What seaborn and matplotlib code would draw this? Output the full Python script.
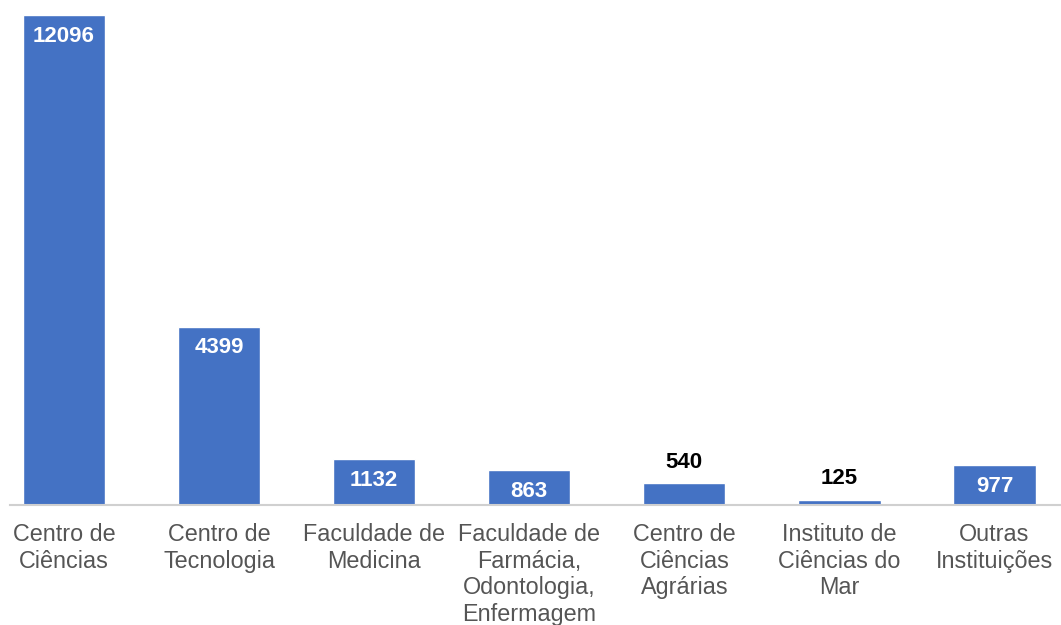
import matplotlib
matplotlib.use("Agg")
import matplotlib.pyplot as plt
import seaborn as sns
import pandas as pd

categories = [
    "Centro de\nCiências",
    "Centro de\nTecnologia",
    "Faculdade de\nMedicina",
    "Faculdade de\nFarmácia,\nOdontologia,\nEnfermagem",
    "Centro de\nCiências\nAgrárias",
    "Instituto de\nCiências do\nMar",
    "Outras\nInstituições",
]
values = [12096, 4399, 1132, 863, 540, 125, 977]
inside = [True, True, True, True, False, False, True]

sns.set_theme(style="white")
plt.rcParams["font.family"] = ["Liberation Sans", "DejaVu Sans"]

df = pd.DataFrame({"cat": categories, "val": values})

fig = plt.figure(figsize=(10.61, 6.25), dpi=100)
ax = fig.add_axes([9.7 / 1061, 120 / 625, 1050 / 1061, 490 / 625])
sns.barplot(data=df, x="cat", y="val", order=categories, color="#4472C4",
            saturation=1, width=0.53, ax=ax)

ax.set_xlim(-0.35, 6.42)
ax.set_ylim(0, 12096)
ax.set_xlabel("")
ax.set_ylabel("")
ax.set_yticks([])
for s in ["top", "right", "left"]:
    ax.spines[s].set_visible(False)
ax.spines["bottom"].set_color("#d0d0d0")
ax.spines["bottom"].set_linewidth(1.5)
ax.tick_params(axis="x", length=0, pad=13, labelsize=16.8, labelcolor="#555555")
for t in ax.get_xticklabels():
    t.set_linespacing(1.2)

px = 12096 / 490.0
for i, (v, ins) in enumerate(zip(values, inside)):
    if ins:
        ax.text(i, v - 21 * px, str(v), ha="center", va="center", color="white",
                fontsize=16, fontweight="bold", clip_on=False)
    else:
        ax.text(i, v + 21 * px, str(v), ha="center", va="center", color="black",
                fontsize=16, fontweight="bold", clip_on=False)

fig.savefig("out.png", dpi=100)
